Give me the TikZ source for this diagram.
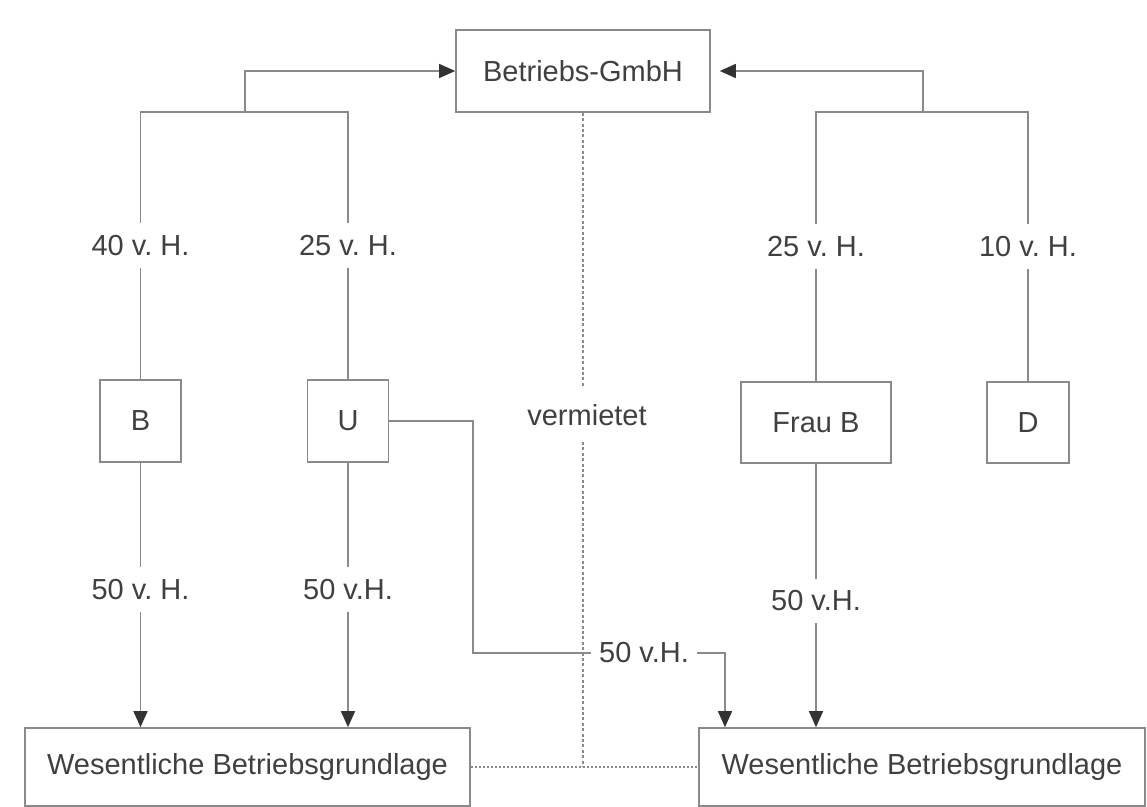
\documentclass[tikz,border=0pt]{standalone}
\usepackage{fontspec}
\setmainfont{Liberation Sans}
\usetikzlibrary{arrows.meta}
\definecolor{linegray}{HTML}{8A8A8A}
\definecolor{textgray}{HTML}{404040}
\definecolor{tipgray}{HTML}{333333}
\frenchspacing
\begin{document}
\begin{tikzpicture}[x=0.5pt,y=-0.5pt,
  font=\fontsize{14.5}{17}\selectfont\frenchspacing,
  box/.style={draw=linegray, line width=0.8pt, text=textgray, inner sep=0pt},
  lab/.style={fill=white, text=textgray, inner xsep=3pt, inner ysep=6pt},
  conn/.style={draw=linegray, line width=0.7pt},
  arr/.style={conn, -{Triangle[length=8pt,width=7pt,color=tipgray]}},
  dotline/.style={draw=linegray, line width=0.6pt, dash pattern=on 1.5pt off 1.2pt}]
\useasboundingbox (0,0) rectangle (1147,807);

% nodes
\node[box, minimum width=127pt, minimum height=41pt] (gmbh) at (583,71) {Betriebs-GmbH};
\node[box, minimum width=40.5pt, minimum height=41pt] (B) at (140.5,421) {B};
\node[box, minimum width=40.5pt, minimum height=41pt] (U) at (348,421) {U};
\node[box, minimum width=75pt, minimum height=40.5pt] (FB) at (816,422.5) {Frau B};
\node[box, minimum width=41pt, minimum height=40.5pt] (D) at (1028,422.5) {D};
\node[box, minimum width=222.5pt, minimum height=39pt] (W1) at (247.5,767) {Wesentliche Betriebsgrundlage};
\node[box, minimum width=223pt, minimum height=39pt] (W2) at (922,767) {Wesentliche Betriebsgrundlage};

% coordinates
\coordinate (lt) at (245,112);
\coordinate (rt) at (923,112);
\coordinate (c1) at (473,653);
\coordinate (c2) at (725,653);

% top left bracket
\draw[conn] (B.north) -- node[lab] {40 v. H.} (B.north |- lt) -- (U.north |- lt)
  -- node[lab] {25 v. H.} (U.north);
\draw[arr] (lt) |- (gmbh.west);

% top right bracket
\draw[conn] (FB.north) -- node[lab] {25 v. H.} (FB.north |- rt) -- (D.north |- rt)
  -- node[lab] {10 v. H.} (D.north);
\draw[arr] (rt) |- ([xshift=4.5pt]gmbh.east);

% downward arrows
\draw[arr] (B.south) -- node[lab, pos=0.48] {50 v. H.} (B.south |- W1.north);
\draw[arr] (U.south) -- node[lab, pos=0.48] {50 v.H.} (U.south |- W1.north);
\draw[arr] (FB.south) -- node[lab, pos=0.52] {50 v.H.} (FB.south |- W2.north);

% U to right base
\node[lab, inner xsep=4pt] (l3) at (644,653) {50 v.H.};
\draw[conn] (U.east) -| (c1) -- (l3.west);
\draw[arr] (l3.east) -| (c2 |- W2.north);

% vermietet dotted
\node[lab, inner ysep=8pt] (verm) at (587,415) {vermietet};
\draw[dotline] (gmbh.south) -- (gmbh.south |- verm.north);
\draw[dotline] (gmbh.south |- verm.south) -- (gmbh.south |- W1.east);
\draw[dotline, dash pattern=on 1pt off 1pt] (W1.east) -- (W2.west);
\end{tikzpicture}
\end{document}
